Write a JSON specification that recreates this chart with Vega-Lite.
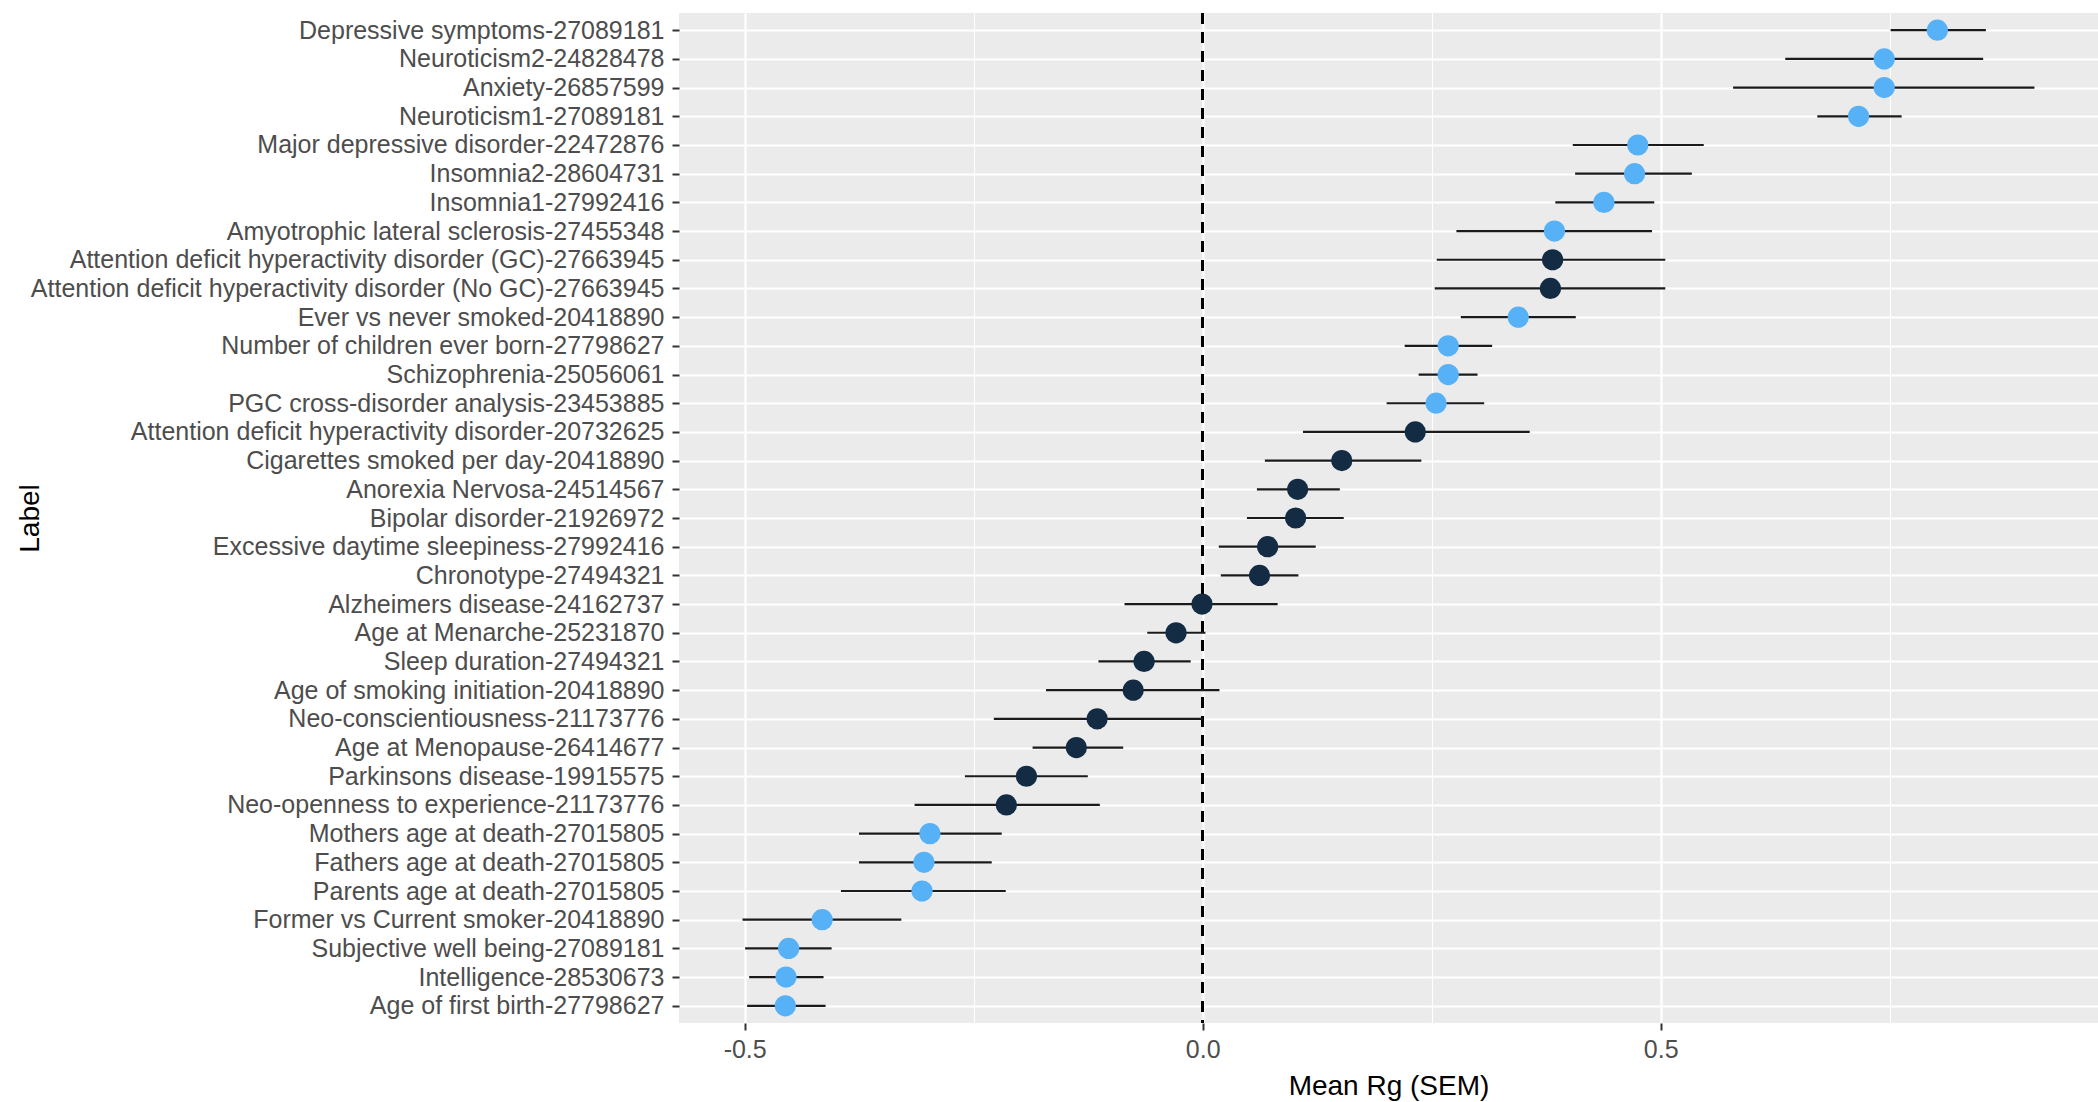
{
  "$schema": "https://vega.github.io/schema/vega-lite/v6.json",
  "width": 1419,
  "height": 1010,
  "autosize": {"type": "none"},
  "padding": {"left": 679, "top": 13, "right": 0, "bottom": 79},
  "background": "white",
  "config": {"view": {"fill": "#EBEBEB", "stroke": null}, "font": "Liberation Sans"},
  "data": {"values": [
    {"label": "Depressive symptoms-27089181", "rg": 0.802, "lo": 0.751, "hi": 0.855, "sig": "yes"},
    {"label": "Neuroticism2-24828478", "rg": 0.744, "lo": 0.636, "hi": 0.852, "sig": "yes"},
    {"label": "Anxiety-26857599", "rg": 0.744, "lo": 0.579, "hi": 0.908, "sig": "yes"},
    {"label": "Neuroticism1-27089181", "rg": 0.716, "lo": 0.671, "hi": 0.763, "sig": "yes"},
    {"label": "Major depressive disorder-22472876", "rg": 0.475, "lo": 0.404, "hi": 0.547, "sig": "yes"},
    {"label": "Insomnia2-28604731", "rg": 0.4715, "lo": 0.4066, "hi": 0.534, "sig": "yes"},
    {"label": "Insomnia1-27992416", "rg": 0.438, "lo": 0.385, "hi": 0.493, "sig": "yes"},
    {"label": "Amyotrophic lateral sclerosis-27455348", "rg": 0.384, "lo": 0.277, "hi": 0.4905, "sig": "yes"},
    {"label": "Attention deficit hyperactivity disorder (GC)-27663945", "rg": 0.382, "lo": 0.2555, "hi": 0.505, "sig": "no"},
    {"label": "Attention deficit hyperactivity disorder (No GC)-27663945", "rg": 0.3796, "lo": 0.2533, "hi": 0.505, "sig": "no"},
    {"label": "Ever vs never smoked-20418890", "rg": 0.3445, "lo": 0.2818, "hi": 0.4073, "sig": "yes"},
    {"label": "Number of children ever born-27798627", "rg": 0.268, "lo": 0.2205, "hi": 0.316, "sig": "yes"},
    {"label": "Schizophrenia-25056061", "rg": 0.268, "lo": 0.2358, "hi": 0.3, "sig": "yes"},
    {"label": "PGC cross-disorder analysis-23453885", "rg": 0.2548, "lo": 0.2008, "hi": 0.3073, "sig": "yes"},
    {"label": "Attention deficit hyperactivity disorder-20732625", "rg": 0.2321, "lo": 0.1095, "hi": 0.357, "sig": "no"},
    {"label": "Cigarettes smoked per day-20418890", "rg": 0.1519, "lo": 0.0679, "hi": 0.2387, "sig": "no"},
    {"label": "Anorexia Nervosa-24514567", "rg": 0.1037, "lo": 0.0592, "hi": 0.1497, "sig": "no"},
    {"label": "Bipolar disorder-21926972", "rg": 0.1015, "lo": 0.0483, "hi": 0.154, "sig": "no"},
    {"label": "Excessive daytime sleepiness-27992416", "rg": 0.0709, "lo": 0.0176, "hi": 0.1234, "sig": "no"},
    {"label": "Chronotype-27494321", "rg": 0.0621, "lo": 0.0198, "hi": 0.1045, "sig": "no"},
    {"label": "Alzheimers disease-24162737", "rg": -0.0007, "lo": -0.0853, "hi": 0.0818, "sig": "no"},
    {"label": "Age at Menarche-25231870", "rg": -0.0291, "lo": -0.0605, "hi": 0.003, "sig": "no"},
    {"label": "Sleep duration-27494321", "rg": -0.064, "lo": -0.1138, "hi": -0.0131, "sig": "no"},
    {"label": "Age of smoking initiation-20418890", "rg": -0.0758, "lo": -0.171, "hi": 0.0183, "sig": "no"},
    {"label": "Neo-conscientiousness-21173776", "rg": -0.1152, "lo": -0.228, "hi": 0.0, "sig": "no"},
    {"label": "Age at Menopause-26414677", "rg": -0.1379, "lo": -0.1857, "hi": -0.0868, "sig": "no"},
    {"label": "Parkinsons disease-19915575", "rg": -0.1924, "lo": -0.2596, "hi": -0.1254, "sig": "no"},
    {"label": "Neo-openness to experience-21173776", "rg": -0.2143, "lo": -0.3145, "hi": -0.1123, "sig": "no"},
    {"label": "Mothers age at death-27015805", "rg": -0.2977, "lo": -0.3752, "hi": -0.2194, "sig": "yes"},
    {"label": "Fathers age at death-27015805", "rg": -0.3043, "lo": -0.3752, "hi": -0.2303, "sig": "yes"},
    {"label": "Parents age at death-27015805", "rg": -0.3064, "lo": -0.3949, "hi": -0.215, "sig": "yes"},
    {"label": "Former vs Current smoker-20418890", "rg": -0.4154, "lo": -0.5024, "hi": -0.329, "sig": "yes"},
    {"label": "Subjective well being-27089181", "rg": -0.452, "lo": -0.4995, "hi": -0.4051, "sig": "yes"},
    {"label": "Intelligence-28530673", "rg": -0.4549, "lo": -0.4951, "hi": -0.4139, "sig": "yes"},
    {"label": "Age of first birth-27798627", "rg": -0.4556, "lo": -0.4973, "hi": -0.4117, "sig": "yes"}
  ]},
  "layer": [
    {
      "mark": {"type": "rule", "color": "black", "strokeWidth": 2, "strokeDash": [11, 8]},
      "encoding": {
        "x": {"datum": 0, "type": "quantitative", "title": "Mean Rg (SEM)"}
      }
    },
    {
      "mark": {"type": "rule", "color": "#1a1a1a", "strokeWidth": 2.2},
      "encoding": {
        "y": {"field": "label", "type": "nominal", "sort": null, "title": "Label"},
        "x": {"field": "lo", "type": "quantitative", "title": "Mean Rg (SEM)"},
        "x2": {"field": "hi"}
      }
    },
    {
      "mark": {"type": "point", "filled": true, "size": 450, "opacity": 1},
      "encoding": {
        "y": {
          "field": "label", "type": "nominal", "sort": null,
          "scale": {"type": "point", "padding": 0.6},
          "axis": {
            "title": "Label",
            "domain": false,
            "grid": true, "gridColor": "white", "gridWidth": 2.2,
            "ticks": true, "tickColor": "#333333", "tickSize": 7, "tickWidth": 2,
            "labelFont": "Liberation Sans", "labelFontSize": 25, "labelColor": "#4D4D4D", "labelPadding": 8, "labelLimit": 1000,
            "titleFont": "Liberation Sans", "titleFontSize": 28, "titleFontWeight": "normal", "titleColor": "black",
            "titleAngle": 270, "titleBaseline": "alphabetic", "titleAlign": "center", "titleX": -641, "titleY": 505
          }
        },
        "x": {
          "field": "rg", "type": "quantitative",
          "scale": {"domain": [-0.5717, 0.9774], "nice": false, "zero": false},
          "axis": {
            "title": "Mean Rg (SEM)",
            "values": [-0.5, -0.25, 0, 0.25, 0.5, 0.75],
            "labelExpr": "datum.value == -0.5 ? '-0.5' : datum.value == 0 ? '0.0' : datum.value == 0.5 ? '0.5' : ''",
            "labelFlush": false,
            "domain": false,
            "grid": true, "gridColor": "white",
            "gridWidth": {"condition": {"test": "datum.value == -0.25 || datum.value == 0.25 || datum.value == 0.75", "value": 1.1}, "value": 2.2},
            "ticks": true, "tickColor": "#333333", "tickSize": 7, "tickWidth": 2,
            "tickOpacity": {"condition": {"test": "datum.value == -0.25 || datum.value == 0.25 || datum.value == 0.75", "value": 0}, "value": 1},
            "labelFont": "Liberation Sans", "labelFontSize": 25, "labelColor": "#4D4D4D", "labelPadding": 7,
            "titleFont": "Liberation Sans", "titleFontSize": 28, "titleFontWeight": "normal", "titleColor": "black",
            "titleBaseline": "alphabetic", "titleY": 71
          }
        },
        "color": {
          "field": "sig", "type": "nominal",
          "scale": {"domain": ["no", "yes"], "range": ["#132B43", "#56B1F7"]},
          "legend": null
        }
      }
    }
  ]
}
